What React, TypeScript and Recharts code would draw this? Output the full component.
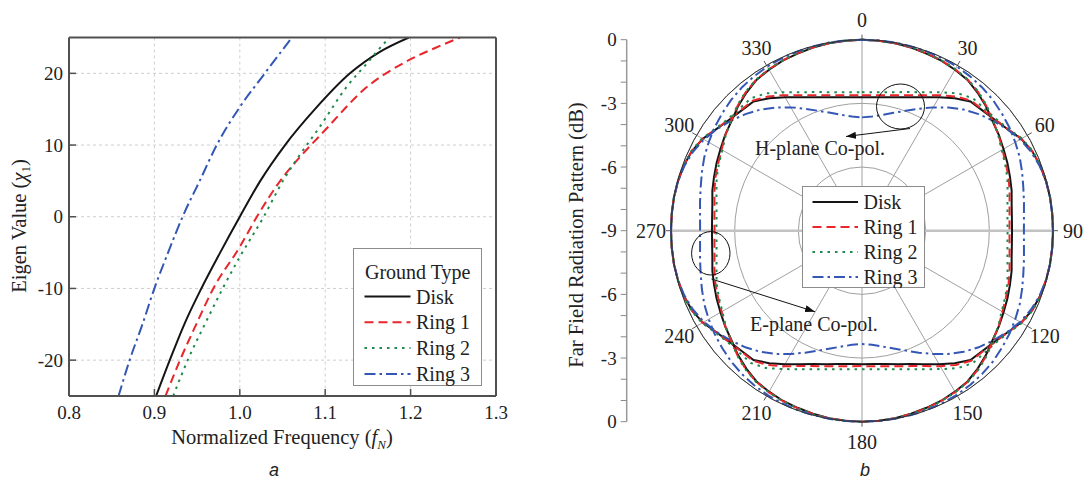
import React from 'react';
import {
  LineChart, Line, XAxis, YAxis, CartesianGrid, Legend,
  RadarChart, Radar, PolarGrid, PolarAngleAxis, PolarRadiusAxis,
} from 'recharts';

const FONT = '"Liberation Serif", "Times New Roman", serif';
const SANS = '"Liberation Sans", Arial, sans-serif';

// ---------- Panel a : eigen value vs normalized frequency ----------
const diskFreq = [0.902, 0.918, 0.935, 0.955, 0.977, 1.0, 1.024, 1.053, 1.088, 1.129, 1.164, 1.198];
const diskEigen = [-25, -20, -15, -10, -5, 0, 5, 10, 15, 20, 23.0, 25];
const ring1Freq = [0.913, 0.930, 0.949, 0.969, 1.0, 1.020, 1.051, 1.071, 1.100, 1.145, 1.199, 1.228, 1.258];
const ring1Eigen = [-25, -20, -15, -10, -4.2, 0, 5.6, 8.4, 12.1, 17.7, 21.9, 23.5, 25];
const ring2Freq = [0.922, 0.939, 0.959, 0.980, 1.0, 1.028, 1.051, 1.069, 1.094, 1.125, 1.149, 1.170, 1.176];
const ring2Eigen = [-25, -20, -15, -10, -5.6, 0, 5.1, 8.4, 12.6, 18.1, 21.4, 24.3, 25];
const ring3Freq = [0.858, 0.871, 0.886, 0.900, 0.916, 0.933, 0.953, 0.973, 1.0, 1.028, 1.061];
const ring3Eigen = [-25, -20, -15, -10, -5, 0, 5, 10, 15.3, 19.8, 25];

const xMajorTicks = [0.8, 0.9, 1.0, 1.1, 1.2, 1.3];
const xMinorTicks = [0.82, 0.84, 0.86, 0.88, 0.92, 0.94, 0.96, 0.98, 1.02, 1.04, 1.06, 1.08, 1.12, 1.14, 1.16, 1.18, 1.22, 1.24, 1.26, 1.28];
const yMajorTicks = [-20, -10, 0, 10, 20];
const yMinorTicks = [-24, -22, -18, -16, -14, -12, -8, -6, -4, -2, 2, 4, 6, 8, 12, 14, 16, 18, 22, 24];

// ---------- Panel b : far field radiation pattern (dB) ----------
const angles = [0, 5, 10, 15, 20, 25, 30, 35, 40, 45, 50, 55, 60, 65, 70, 75, 80, 85, 90,
  95, 100, 105, 110, 115, 120, 125, 130, 135, 140, 145, 150, 155, 160, 165, 170, 175, 180,
  185, 190, 195, 200, 205, 210, 215, 220, 225, 230, 235, 240, 245, 250, 255, 260, 265, 270,
  275, 280, 285, 290, 295, 300, 305, 310, 315, 320, 325, 330, 335, 340, 345, 350, 355];

const eDisk = [0, -0.01, -0.03, -0.07, -0.12, -0.16, -0.24, -0.33, -0.52, -0.73, -0.97, -1.13, -1.30, -1.44, -1.58, -1.70, -1.84, -1.91, -1.93,
  -1.91, -1.84, -1.70, -1.58, -1.44, -1.30, -1.13, -0.97, -0.73, -0.52, -0.33, -0.24, -0.16, -0.12, -0.07, -0.03, -0.01, 0,
  -0.01, -0.03, -0.07, -0.12, -0.16, -0.24, -0.33, -0.52, -0.73, -0.97, -1.13, -1.30, -1.44, -1.58, -1.70, -1.84, -1.91, -1.93,
  -1.91, -1.84, -1.70, -1.58, -1.44, -1.30, -1.13, -0.97, -0.73, -0.52, -0.33, -0.24, -0.16, -0.12, -0.07, -0.03, -0.01];
const eRing1 = [0, -0.01, -0.03, -0.06, -0.10, -0.15, -0.22, -0.31, -0.48, -0.70, -0.95, -1.14, -1.36, -1.52, -1.65, -1.80, -1.94, -2.02, -2.05,
  -2.02, -1.94, -1.80, -1.65, -1.52, -1.36, -1.14, -0.95, -0.70, -0.48, -0.31, -0.22, -0.15, -0.10, -0.06, -0.03, -0.01, 0,
  -0.01, -0.03, -0.06, -0.10, -0.15, -0.22, -0.31, -0.48, -0.70, -0.95, -1.14, -1.36, -1.52, -1.65, -1.80, -1.94, -2.02, -2.05,
  -2.02, -1.94, -1.80, -1.65, -1.52, -1.36, -1.14, -0.95, -0.70, -0.48, -0.31, -0.22, -0.15, -0.10, -0.06, -0.03, -0.01];
const eRing2 = [0, -0.01, -0.02, -0.05, -0.09, -0.14, -0.21, -0.30, -0.46, -0.68, -0.95, -1.16, -1.40, -1.56, -1.71, -1.90, -2.04, -2.12, -2.14,
  -2.12, -2.04, -1.90, -1.71, -1.56, -1.40, -1.16, -0.95, -0.68, -0.46, -0.30, -0.21, -0.14, -0.09, -0.05, -0.02, -0.01, 0,
  -0.01, -0.02, -0.05, -0.09, -0.14, -0.21, -0.30, -0.46, -0.68, -0.95, -1.16, -1.40, -1.56, -1.71, -1.90, -2.04, -2.12, -2.14,
  -2.12, -2.04, -1.90, -1.71, -1.56, -1.40, -1.16, -0.95, -0.68, -0.46, -0.30, -0.21, -0.14, -0.09, -0.05, -0.02, -0.01];
const eRing3 = [0, 0, 0, -0.01, -0.02, -0.04, -0.07, -0.12, -0.19, -0.28, -0.40, -0.52, -0.66, -0.80, -0.97, -1.13, -1.25, -1.34, -1.37,
  -1.34, -1.25, -1.13, -0.97, -0.80, -0.66, -0.52, -0.40, -0.28, -0.19, -0.12, -0.07, -0.04, -0.02, -0.01, 0, 0, 0,
  0, 0, -0.01, -0.02, -0.04, -0.07, -0.12, -0.19, -0.28, -0.40, -0.52, -0.66, -0.80, -0.97, -1.13, -1.25, -1.34, -1.37,
  -1.34, -1.25, -1.13, -0.97, -0.80, -0.66, -0.52, -0.40, -0.28, -0.19, -0.12, -0.07, -0.04, -0.02, -0.01, 0, 0];

const hDisk = [-2.71, -2.69, -2.62, -2.49, -2.31, -2.06, -1.74, -1.38, -1.05, -0.98, -0.85, -0.64, -0.34, -0.15, -0.06, -0.02, 0, 0, 0,
  0, 0, -0.02, -0.06, -0.15, -0.34, -0.64, -0.85, -0.98, -1.05, -1.38, -1.74, -2.06, -2.31, -2.49, -2.62, -2.69, -2.71,
  -2.69, -2.62, -2.49, -2.31, -2.06, -1.74, -1.38, -1.05, -0.98, -0.85, -0.64, -0.34, -0.15, -0.06, -0.02, 0, 0, 0,
  0, 0, -0.02, -0.06, -0.15, -0.34, -0.64, -0.85, -0.98, -1.05, -1.38, -1.74, -2.06, -2.31, -2.49, -2.62, -2.69];
const hRing1 = [-2.62, -2.59, -2.52, -2.39, -2.21, -1.96, -1.63, -1.28, -1.00, -0.95, -0.83, -0.63, -0.33, -0.14, -0.05, -0.02, 0, 0, 0,
  0, 0, -0.02, -0.05, -0.14, -0.33, -0.63, -0.83, -0.95, -1.00, -1.28, -1.63, -1.96, -2.21, -2.39, -2.52, -2.59, -2.62,
  -2.59, -2.52, -2.39, -2.21, -1.96, -1.63, -1.28, -1.00, -0.95, -0.83, -0.63, -0.33, -0.14, -0.05, -0.02, 0, 0, 0,
  0, 0, -0.02, -0.05, -0.14, -0.33, -0.63, -0.83, -0.95, -1.00, -1.28, -1.63, -1.96, -2.21, -2.39, -2.52, -2.59];
const hRing2 = [-2.47, -2.45, -2.37, -2.24, -2.05, -1.80, -1.47, -1.10, -0.86, -0.85, -0.78, -0.60, -0.30, -0.12, -0.04, -0.01, 0, 0, 0,
  0, 0, -0.01, -0.04, -0.12, -0.30, -0.60, -0.78, -0.85, -0.86, -1.10, -1.47, -1.80, -2.05, -2.24, -2.37, -2.45, -2.47,
  -2.45, -2.37, -2.24, -2.05, -1.80, -1.47, -1.10, -0.86, -0.85, -0.78, -0.60, -0.30, -0.12, -0.04, -0.01, 0, 0, 0,
  0, 0, -0.01, -0.04, -0.12, -0.30, -0.60, -0.78, -0.85, -0.86, -1.10, -1.47, -1.80, -2.05, -2.24, -2.37, -2.45];
const hRing3 = [-3.66, -3.60, -3.46, -3.25, -2.99, -2.66, -2.29, -1.91, -1.55, -1.23, -0.94, -0.66, -0.40, -0.21, -0.09, -0.02, 0, 0, 0,
  0, 0, -0.02, -0.09, -0.21, -0.40, -0.66, -0.94, -1.23, -1.55, -1.91, -2.29, -2.66, -2.99, -3.25, -3.46, -3.60, -3.66,
  -3.60, -3.46, -3.25, -2.99, -2.66, -2.29, -1.91, -1.55, -1.23, -0.94, -0.66, -0.40, -0.21, -0.09, -0.02, 0, 0, 0,
  0, 0, -0.02, -0.09, -0.21, -0.40, -0.66, -0.94, -1.23, -1.55, -1.91, -2.29, -2.66, -2.99, -3.25, -3.46, -3.60];

const angleTicks = [0, 30, 60, 90, 120, 150, 180, 210, 240, 270, 300, 330];
const angleMinorTicks = [0, 10, 20, 30, 40, 50, 60, 70, 80, 90, 100, 110, 120, 130, 140, 150, 160, 170, 180,
  190, 200, 210, 220, 230, 240, 250, 260, 270, 280, 290, 300, 310, 320, 330, 340, 350];
const angleAxisLineTicks = [90, 270];
const radiusTicks = [-9, -6, -3, 0];
const radiusMinorTicks = [-9, -8, -7, -6, -5, -4, -3, -2, -1, 0];
const leftAxisTicks = [-9, -8, -7, -6, -5, -4, -3, -2, -1, 0, 1, 2, 3, 4, 5, 6, 7, 8, 9];

const SERIES = [
  { name: 'Disk', color: '#151515', dash: undefined as string | undefined },
  { name: 'Ring 1', color: '#e8262b', dash: '9 5' },
  { name: 'Ring 2', color: '#1e8a4c', dash: '2.5 5' },
  { name: 'Ring 3', color: '#3457b5', dash: '11 4 2.5 4' },
];
const styleOf = (name: string) => SERIES.find((s) => s.name === name) || SERIES[0];

const toPts = (fs: number[], vs: number[]) => fs.map((f, i) => ({ f, v: vs[i] }));
const lineData = [
  toPts(diskFreq, diskEigen),
  toPts(ring1Freq, ring1Eigen),
  toPts(ring2Freq, ring2Eigen),
  toPts(ring3Freq, ring3Eigen),
];

const radarData = angles.map((a, i) => ({
  angle: a,
  eDisk: eDisk[i], eRing1: eRing1[i], eRing2: eRing2[i], eRing3: eRing3[i],
  hDisk: hDisk[i], hRing1: hRing1[i], hRing2: hRing2[i], hRing3: hRing3[i],
}));
const leftAxisData = [{ v: -9 }, { v: 9 }];

const LegendA = (props: any) => {
  const payload = (props.payload || []) as any[];
  return (
    <svg width={129} height={138} style={{ display: 'block' }}>
      <rect x={0.5} y={0.5} width={128} height={137} fill="#fff" stroke="#8c8c8c" />
      <text x={12} y={30.5} style={{ fontFamily: FONT }} fontSize={20} fill="#222">Ground Type</text>
      {payload.map((p, i) => {
        const s = styleOf(p.value);
        return (
          <g key={p.value}>
            <line x1={11.5} x2={57.5} y1={48.5 + i * 25.8} y2={48.5 + i * 25.8} stroke={s.color} strokeWidth={2} strokeDasharray={s.dash} />
            <text x={63} y={55.6 + i * 25.8} style={{ fontFamily: FONT }} fontSize={20} fill="#222">{p.value}</text>
          </g>
        );
      })}
    </svg>
  );
};

const LegendB = (props: any) => {
  const payload = ((props.payload || []) as any[]).filter((p) => p.type !== 'none');
  return (
    <svg width={123} height={102} style={{ display: 'block' }}>
      <rect x={0.5} y={0.5} width={122} height={101} fill="#fff" stroke="#8c8c8c" />
      {payload.map((p, i) => {
        const s = styleOf(p.value);
        return (
          <g key={p.value}>
            <line x1={10.5} x2={56} y1={16 + i * 25} y2={16 + i * 25} stroke={s.color} strokeWidth={2} strokeDasharray={s.dash} />
            <text x={61.5} y={22.6 + i * 25} style={{ fontFamily: FONT }} fontSize={20} fill="#222">{p.value}</text>
          </g>
        );
      })}
    </svg>
  );
};

const AngleTick = (props: any) => {
  const { x, y, payload } = props;
  const c = (payload.coordinate * Math.PI) / 180;
  const dx = Math.cos(c);
  const dy = -Math.sin(c);
  return (
    <g>
      <line x1={x - dx * 20} y1={y - dy * 20} x2={x - dx * 15} y2={y - dy * 15} stroke="#555" strokeWidth={1} />
      <text x={x} y={y} textAnchor="middle" dominantBaseline="central" style={{ fontFamily: FONT }} fontSize={20} fill="#222">
        {payload.value}
      </text>
    </g>
  );
};

const axisTickA = { fontFamily: FONT, fontSize: 19, fill: '#222' };
const frame = { stroke: '#505050', strokeWidth: 2 };
const tickStroke = { stroke: '#505050', strokeWidth: 1.5 };

export default function App() {
  return (
    <div style={{ position: 'absolute', left: 0, top: 0, width: 1086, height: 484, background: '#fff', overflow: 'hidden', fontFamily: FONT }}>
      {/* Panel a */}
      <div style={{ position: 'absolute', left: 0, top: 0 }}>
        <LineChart width={540} height={484} margin={{ top: 35.5, right: 42, bottom: 86, left: 67 }}>
          <CartesianGrid stroke="#cfcfcf" strokeDasharray="3 3" />
          <XAxis dataKey="f" type="number" domain={[0.8, 1.3]} ticks={xMajorTicks} interval={0} allowDataOverflow height={1}
            tickSize={-7} tickMargin={17} tickFormatter={(v: number) => v.toFixed(1)} axisLine={frame} tickLine={tickStroke} tick={axisTickA} />
          <XAxis xAxisId="bm" dataKey="f" type="number" domain={[0.8, 1.3]} ticks={xMinorTicks} interval={0} allowDataOverflow height={1}
            tickSize={-4} tick={false} axisLine={false} tickLine={tickStroke} />
          <XAxis xAxisId="tM" orientation="top" dataKey="f" type="number" domain={[0.8, 1.3]} ticks={xMajorTicks} interval={0} allowDataOverflow height={1}
            tickSize={-7} tick={false} axisLine={frame} tickLine={tickStroke} />
          <XAxis xAxisId="tm" orientation="top" dataKey="f" type="number" domain={[0.8, 1.3]} ticks={xMinorTicks} interval={0} allowDataOverflow height={1}
            tickSize={-4} tick={false} axisLine={false} tickLine={tickStroke} />
          <YAxis type="number" domain={[-25, 25]} ticks={yMajorTicks} interval={0} allowDataOverflow width={1}
            tickSize={-7} tickMargin={13} axisLine={frame} tickLine={tickStroke} tick={axisTickA} />
          <YAxis yAxisId="lm" type="number" domain={[-25, 25]} ticks={yMinorTicks} interval={0} allowDataOverflow width={1}
            tickSize={-4} tick={false} axisLine={false} tickLine={tickStroke} />
          <YAxis yAxisId="rM" orientation="right" type="number" domain={[-25, 25]} ticks={yMajorTicks} interval={0} allowDataOverflow width={1}
            tickSize={-7} tick={false} axisLine={frame} tickLine={tickStroke} />
          <YAxis yAxisId="rm" orientation="right" type="number" domain={[-25, 25]} ticks={yMinorTicks} interval={0} allowDataOverflow width={1}
            tickSize={-4} tick={false} axisLine={false} tickLine={tickStroke} />
          {SERIES.map((s, i) => (
            <Line key={s.name} data={lineData[i]} dataKey="v" name={s.name} type="monotone" stroke={s.color} strokeWidth={2}
              strokeDasharray={s.dash} dot={false} activeDot={false} isAnimationActive={false} />
          ))}
          <Legend layout="vertical" align="center" verticalAlign="middle" content={LegendA}
            wrapperStyle={{ left: 352.5, top: 247.5, width: 129, height: 138 }} />
        </LineChart>
      </div>

      {/* Panel b */}
      <div style={{ position: 'absolute', left: 560, top: 0 }}>
        <RadarChart width={526} height={484} data={radarData} cx={302} cy={230.7} outerRadius={191} innerRadius={0}
          startAngle={90} endAngle={-270} margin={{ top: 0, right: 0, bottom: 0, left: 0 }}>
          <PolarAngleAxis angleAxisId="minor" dataKey="angle" type="number" domain={[0, 360]} ticks={angleMinorTicks}
            tick={false} tickLine={false} axisLine={false} />
          <PolarRadiusAxis radiusAxisId="minor" type="number" domain={[-9, 0]} ticks={radiusMinorTicks}
            tick={false} axisLine={false} />
          <PolarAngleAxis angleAxisId="hline" dataKey="angle" type="number" domain={[0, 360]} ticks={angleAxisLineTicks}
            tick={false} tickLine={false} axisLine={false} />
          <PolarGrid angleAxisId="minor" radiusAxisId="minor" gridType="circle" stroke="#d2d2d2" strokeDasharray="3 3" />
          <PolarGrid gridType="circle" stroke="#a0a0a0" />
          <PolarGrid angleAxisId="hline" radiusAxisId="minor" gridType="circle" polarRadius={[]} stroke="#c2c2c2" strokeWidth={2.5} />
          <PolarAngleAxis dataKey="angle" type="number" domain={[0, 360]} ticks={angleTicks} tickSize={20}
            tick={AngleTick} tickLine={false} axisLine={{ stroke: '#333', strokeWidth: 1 }} axisLineType="circle" />
          <PolarRadiusAxis type="number" domain={[-9, 0]} ticks={radiusTicks} tick={false} axisLine={false} />
          {SERIES.map((s, i) => (
            <Radar key={'h' + s.name} dataKey={['hDisk', 'hRing1', 'hRing2', 'hRing3'][i]} name={s.name + ' H'} legendType="none"
              stroke={s.color} strokeWidth={2} strokeDasharray={s.dash} fill="none" fillOpacity={0} dot={false} isAnimationActive={false} />
          ))}
          {SERIES.map((s, i) => (
            <Radar key={'e' + s.name} dataKey={['eDisk', 'eRing1', 'eRing2', 'eRing3'][i]} name={s.name}
              stroke={s.color} strokeWidth={2} strokeDasharray={s.dash} fill="none" fillOpacity={0} dot={false} isAnimationActive={false} />
          ))}
          <Legend layout="vertical" align="center" verticalAlign="middle" content={LegendB}
            wrapperStyle={{ left: 242, top: 185.5, width: 123, height: 102 }} />
        </RadarChart>
      </div>

      {/* Panel b: left radial scale */}
      <div style={{ position: 'absolute', left: 560, top: 0 }}>
        <LineChart width={526} height={484} data={leftAxisData} margin={{ top: 39.7, right: 10, bottom: 62.3, left: 65.7 }}>
          <XAxis hide dataKey="v" type="number" />
          <YAxis type="number" domain={[-9, 9]} ticks={leftAxisTicks} interval={0} allowDataOverflow width={1}
            tickSize={6} tickMargin={4} axisLine={{ stroke: '#999', strokeWidth: 1.5 }} tickLine={{ stroke: '#888' }}
            tickFormatter={(v: number) => (v % 3 === 0 ? String(Math.abs(v) - 9) : '')}
            tick={{ fontFamily: FONT, fontSize: 19, fill: '#222' }} />
        </LineChart>
      </div>

      {/* Titles and annotations */}
      <svg width={1086} height={484} style={{ position: 'absolute', left: 0, top: 0, pointerEvents: 'none' }}>
        <defs>
          <marker id="arrowHead" markerWidth={10} markerHeight={7} refX={10} refY={3.5} orient="auto" markerUnits="userSpaceOnUse">
            <path d="M0,0 L10,3.5 L0,7 z" fill="#111" />
          </marker>
        </defs>
        <text transform="translate(26,226) rotate(-90)" textAnchor="middle" style={{ fontFamily: FONT }} fontSize={20.5} fill="#222">
          Eigen Value (<tspan fontStyle="italic">χ</tspan><tspan dy={4} fontSize={13}>1</tspan><tspan dy={-4}>)</tspan>
        </text>
        <text x={282} y={444} textAnchor="middle" style={{ fontFamily: FONT }} fontSize={20.5} fill="#222">
          Normalized Frequency (<tspan fontStyle="italic">f</tspan><tspan dy={5} fontSize={13} fontStyle="italic">N</tspan><tspan dy={-5}>)</tspan>
        </text>
        <text x={274} y={476} textAnchor="middle" style={{ fontFamily: SANS }} fontStyle="italic" fontSize={18} fill="#222">a</text>

        <text transform="translate(583,235) rotate(-90)" textAnchor="middle" style={{ fontFamily: FONT }} fontSize={20.5} fill="#222">
          Far Field Radiation Pattern (dB)
        </text>
        <text x={865} y={476} textAnchor="middle" style={{ fontFamily: SANS }} fontStyle="italic" fontSize={18} fill="#222">b</text>

        <ellipse cx={900.5} cy={106.5} rx={24} ry={22.5} fill="none" stroke="#111" strokeWidth={1} />
        <line x1={910} y1={128.5} x2={846} y2={136.5} stroke="#111" strokeWidth={1} markerEnd="url(#arrowHead)" />
        <text x={755} y={154.5} style={{ fontFamily: FONT }} fontSize={20} fill="#222">H-plane Co-pol.</text>

        <ellipse cx={710.8} cy={253.3} rx={19.2} ry={21.7} fill="none" stroke="#111" strokeWidth={1} />
        <line x1={711.5} y1={279} x2={815} y2={311.7} stroke="#111" strokeWidth={1} markerEnd="url(#arrowHead)" />
        <text x={750} y={331} style={{ fontFamily: FONT }} fontSize={20} fill="#222">E-plane Co-pol.</text>
      </svg>
    </div>
  );
}
